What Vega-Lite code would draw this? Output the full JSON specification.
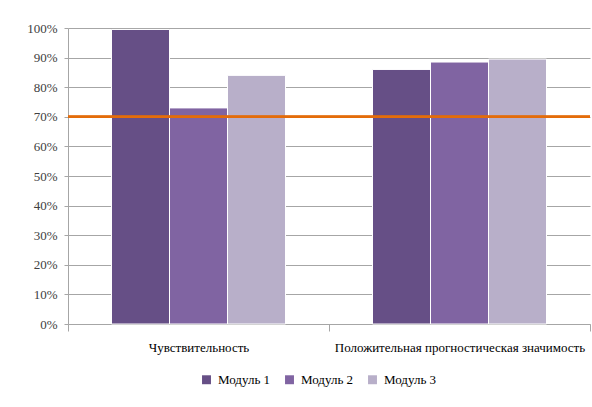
{
  "$schema": "https://vega.github.io/schema/vega-lite/v6.json",
  "autosize": {"type": "none"},
  "width": 522,
  "height": 296,
  "padding": {"left": 68, "top": 28, "right": 2, "bottom": 83},
  "background": "#ffffff",
  "config": {
    "view": {"stroke": null},
    "font": "Liberation Serif"
  },
  "data": {
    "values": [
      {"category": "Чувствительность", "module": "Модуль 1", "value": 0.995},
      {"category": "Чувствительность", "module": "Модуль 2", "value": 0.73},
      {"category": "Чувствительность", "module": "Модуль 3", "value": 0.84},
      {"category": "Положительная прогностическая значимость", "module": "Модуль 1", "value": 0.86},
      {"category": "Положительная прогностическая значимость", "module": "Модуль 2", "value": 0.885},
      {"category": "Положительная прогностическая значимость", "module": "Модуль 3", "value": 0.895}
    ]
  },
  "layer": [
    {
      "mark": {"type": "bar", "stroke": "#ffffff", "strokeWidth": 1},
      "encoding": {
        "x": {
          "field": "category", "type": "nominal", "sort": null,
          "scale": {"paddingInner": 0, "paddingOuter": 0},
          "axis": {
            "title": null, "labelAngle": 0, "labelFont": "Liberation Serif",
            "labelFontSize": 13, "labelColor": "#000000", "labelPadding": 10, "labelLimit": 0,
            "tickBand": "extent", "tickSize": 7, "tickColor": "#a6a6a6",
            "domainColor": "#a6a6a6", "grid": false
          }
        },
        "xOffset": {
          "field": "module", "type": "nominal",
          "scale": {"paddingInner": 0, "paddingOuter": 0.75}
        },
        "y": {
          "field": "value", "type": "quantitative",
          "scale": {"domain": [0, 1], "nice": false},
          "axis": {
            "title": null, "format": ".0%", "values": [0, 0.1, 0.2, 0.3, 0.4, 0.5, 0.6, 0.7, 0.8, 0.9, 1],
            "labelOverlap": false,
            "labelFont": "Liberation Serif", "labelFontSize": 13, "labelColor": "#404040",
            "labelPadding": 7, "tickSize": 4, "tickColor": "#a6a6a6",
            "domainColor": "#a6a6a6", "grid": true, "gridColor": "#a6a6a6", "gridWidth": 1
          }
        },
        "color": {
          "field": "module", "type": "nominal",
          "scale": {"domain": ["Модуль 1", "Модуль 2", "Модуль 3"], "range": ["#664f86", "#8064a2", "#b8afc9"]},
          "legend": {
            "title": null, "orient": "none", "direction": "horizontal",
            "legendX": 132, "legendY": 345,
            "symbolType": "square", "symbolSize": 80, "symbolStrokeWidth": 0,
            "labelFont": "Liberation Serif", "labelFontSize": 13, "labelColor": "#000000",
            "columnPadding": 12, "labelOffset": 5
          }
        }
      }
    },
    {
      "mark": {"type": "rule", "color": "#e46c0a", "strokeWidth": 2},
      "encoding": {
        "y": {
          "datum": 0.7, "type": "quantitative",
          "axis": {
            "title": null, "format": ".0%", "values": [0, 0.1, 0.2, 0.3, 0.4, 0.5, 0.6, 0.7, 0.8, 0.9, 1],
            "labelOverlap": false,
            "labelFont": "Liberation Serif", "labelFontSize": 13, "labelColor": "#404040",
            "labelPadding": 7, "tickSize": 4, "tickColor": "#a6a6a6",
            "domainColor": "#a6a6a6", "grid": true, "gridColor": "#a6a6a6", "gridWidth": 1
          }
        }
      }
    }
  ]
}
